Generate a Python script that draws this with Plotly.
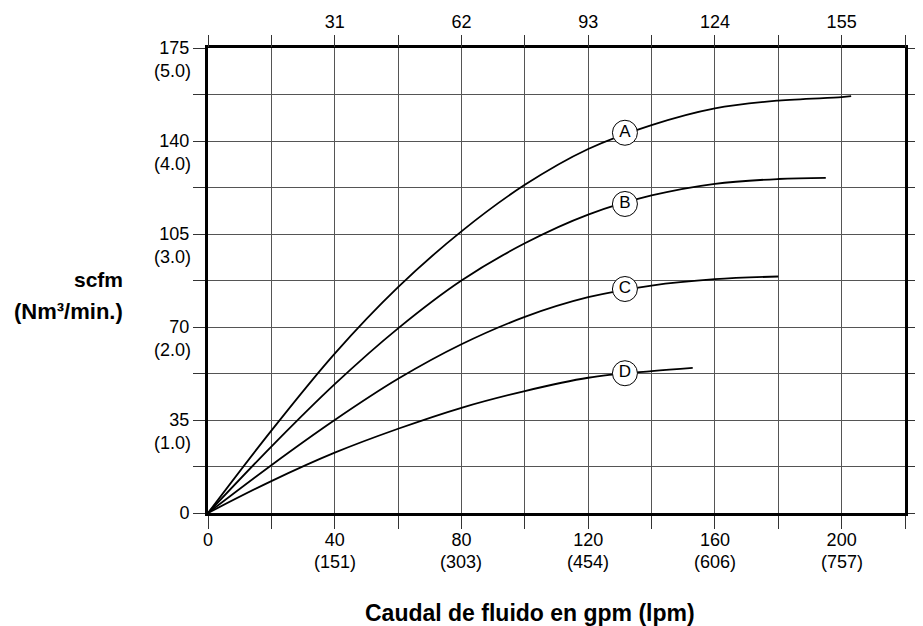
import plotly.graph_objects as go

# ---- data ----
gpm_a = [0, 20, 40, 60, 80, 100, 120, 140, 160, 180, 200, 203]
scfm_a = [0, 31, 60, 85, 106, 123.5, 137, 146, 152.3, 155.2, 156.5, 156.9]
gpm_b = [0, 20, 40, 60, 80, 100, 120, 140, 160, 180, 195]
scfm_b = [0, 25, 48.5, 69.5, 87.5, 101.5, 112.3, 119.5, 123.9, 125.7, 126.1]
gpm_c = [0, 20, 40, 60, 80, 100, 120, 140, 160, 180]
scfm_c = [0, 18, 35, 50.5, 63.5, 73.8, 81.2, 85.6, 88.0, 89.0]
gpm_d = [0, 20, 40, 60, 80, 100, 120, 140, 153]
scfm_d = [0, 12, 22.7, 31.7, 39.6, 45.9, 50.9, 53.4, 54.6]

curve_names = ["A", "B", "C", "D"]
label_gpm = [131.6, 131.6, 131.6, 131.6]
label_scfm = [143.1, 116.3, 84.3, 52.6]

x_tick_vals = [0, 20, 40, 60, 80, 100, 120, 140, 160, 180, 200, 220]
x_tick_text = ["0", "", "40", "", "80", "", "120", "", "160", "", "200", ""]
x_lpm_vals = [40, 80, 120, 160, 200]
x_lpm_text = ["(151)", "(303)", "(454)", "(606)", "(757)"]
top_tick_text = ["", "", "31", "", "62", "", "93", "", "124", "", "155", ""]

y_tick_vals = [0, 17.5, 35, 52.5, 70, 87.5, 105, 122.5, 140, 157.5, 175]
y_tick_text = ["0", "", "35", "", "70", "", "105", "", "140", "", "175"]
y_nm3_vals = [35, 70, 105, 140, 175]
y_nm3_text = ["(1.0)", "(2.0)", "(3.0)", "(4.0)", "(5.0)"]

FONT = "Liberation Sans, Arial, sans-serif"
TICK_SIZE = 18

fig = go.Figure()
for gx, gy in [(gpm_a, scfm_a), (gpm_b, scfm_b), (gpm_c, scfm_c), (gpm_d, scfm_d)]:
    fig.add_trace(go.Scatter(x=gx, y=gy, mode="lines",
                             line=dict(color="black", width=1.8, shape="spline", smoothing=1.0),
                             showlegend=False, hoverinfo="skip"))

fig.add_trace(go.Scatter(x=label_gpm, y=label_scfm, mode="markers+text", text=curve_names,
                         textposition="middle center",
                         textfont=dict(family=FONT, size=17, color="black"),
                         marker=dict(size=25, color="white", line=dict(color="black", width=1)),
                         showlegend=False, hoverinfo="skip"))

# invisible trace to anchor the top axis
fig.add_trace(go.Scatter(x=[0, 220], y=[0, 0], xaxis="x2", mode="none", showlegend=False, hoverinfo="skip"))

annotations = []
for v, t in zip(x_lpm_vals, x_lpm_text):
    annotations.append(dict(x=v, y=0, xref="x", yref="paper", text=t, showarrow=False,
                            yanchor="middle", yshift=-49, font=dict(family=FONT, size=TICK_SIZE, color="black")))
for v, t in zip(y_nm3_vals, y_nm3_text):
    annotations.append(dict(x=0, y=v, xref="paper", yref="y", text=t, showarrow=False,
                            xanchor="right", yanchor="middle", xshift=-15, yshift=-23,
                            font=dict(family=FONT, size=TICK_SIZE, color="black")))
annotations.append(dict(x=-0.119, y=0.503, xref="paper", yref="paper", text="<b>scfm</b>", showarrow=False,
                        xanchor="right", yanchor="middle", font=dict(family=FONT, size=21, color="black")))
annotations.append(dict(x=-0.119, y=0.433, xref="paper", yref="paper", text="<b>(Nm³/min.)</b>", showarrow=False,
                        xanchor="right", yanchor="middle", font=dict(family=FONT, size=22, color="black")))
annotations.append(dict(x=0.462, y=-0.215, xref="paper", yref="paper", text="<b>Caudal de fluido en gpm (lpm)</b>",
                        showarrow=False, xanchor="center", yanchor="middle",
                        font=dict(family=FONT, size=23, color="black")))

fig.update_layout(
    width=915, height=618,
    margin=dict(l=200, r=18, t=40, b=113, autoexpand=False),
    paper_bgcolor="white", plot_bgcolor="white",
    font=dict(family=FONT, size=TICK_SIZE, color="black"),
    xaxis=dict(range=[0, 220], tickvals=x_tick_vals, ticktext=x_tick_text,
               ticks="outside", ticklen=13, tickwidth=1.2, tickcolor="#333",
               ticklabelstandoff=-5,
               showgrid=True, gridcolor="#555", gridwidth=1.3,
               showline=True, linecolor="black", linewidth=3, mirror=True,
               zeroline=False, tickfont=dict(size=TICK_SIZE), automargin=False),
    xaxis2=dict(range=[0, 220], overlaying="x", side="top", anchor="y",
                tickvals=x_tick_vals, ticktext=top_tick_text,
                ticks="outside", ticklen=12, tickwidth=1.2, tickcolor="#333",
                showgrid=False, showline=False, zeroline=False, tickfont=dict(size=TICK_SIZE),
                automargin=False),
    yaxis=dict(range=[0, 175], tickvals=y_tick_vals, ticktext=y_tick_text,
               ticks="outside", ticklen=12, tickwidth=1.2, tickcolor="#333",
               showgrid=True, gridcolor="#555", gridwidth=1.3,
               showline=True, linecolor="black", linewidth=3, mirror="allticks",
               zeroline=False, tickfont=dict(size=TICK_SIZE), automargin=False),
    annotations=annotations,
)

fig.write_html("out.html")
